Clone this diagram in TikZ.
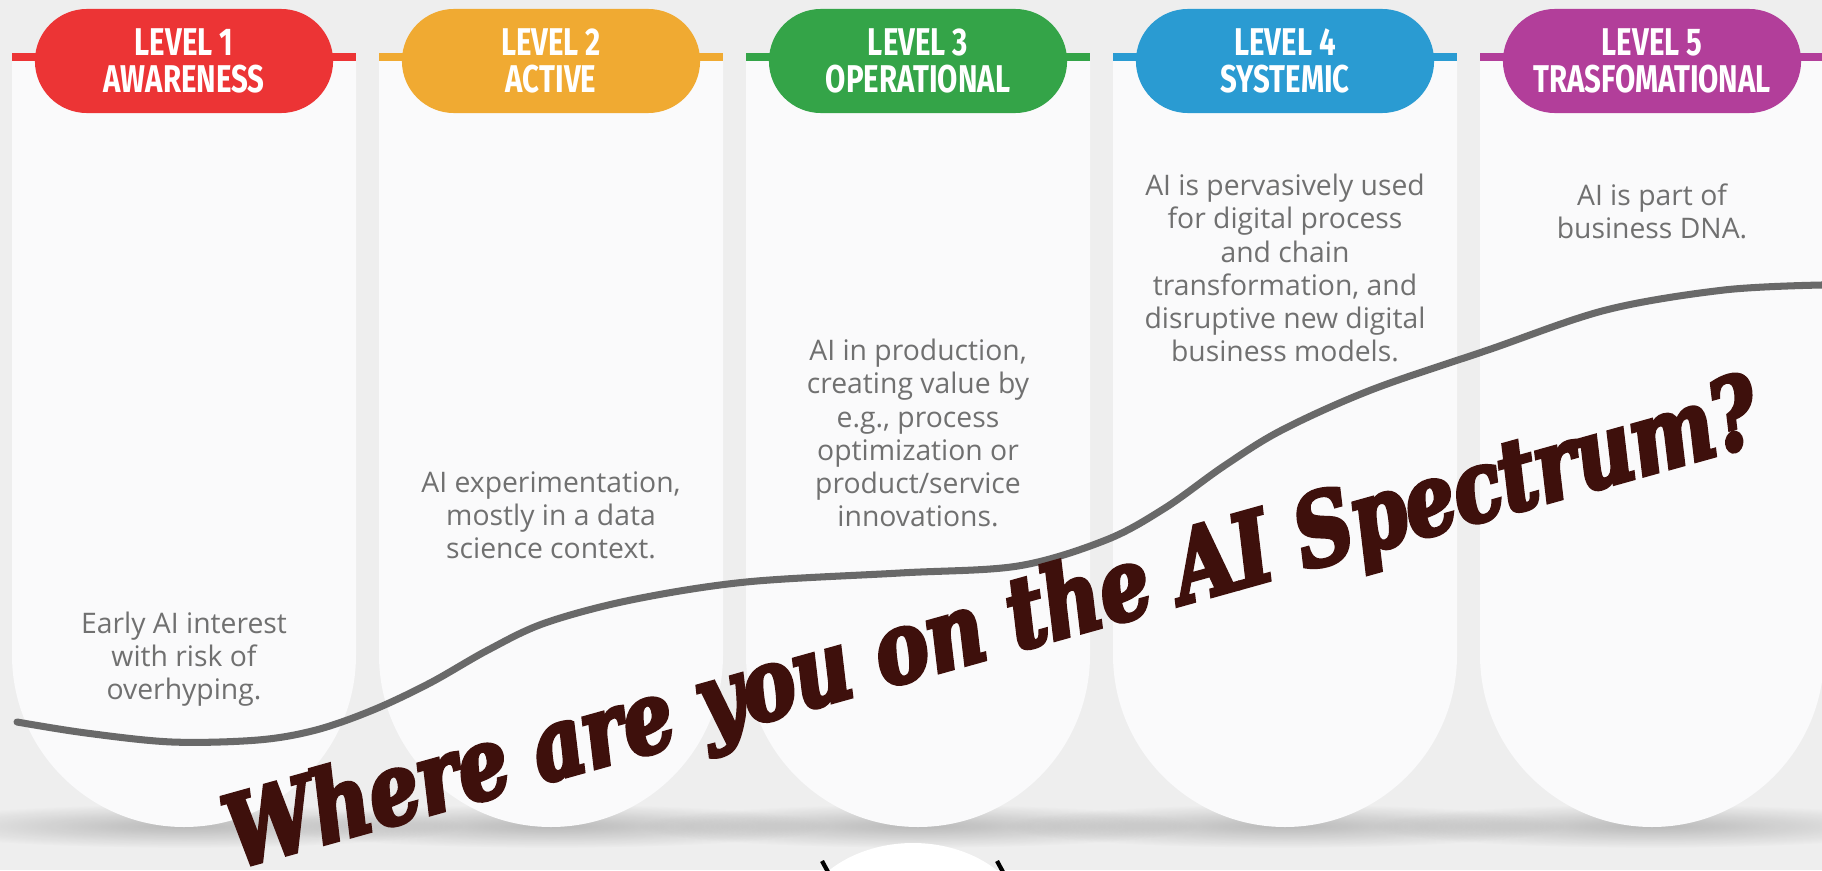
\documentclass[tikz,border=0pt]{standalone}
\usepackage{fontspec}
\setmainfont{Open Sans}
\newfontfamily\pillfont{Fira Sans}[FakeStretch=0.76]
\newfontfamily\headfont{DejaVu Serif}[FakeStretch=0.8,FakeBold=4]
\usetikzlibrary{shapes,arrows,fadings}

\definecolor{pagebg}{RGB}{238,238,238}
\definecolor{cardwhite}{RGB}{250,250,251}
\definecolor{lvlred}{RGB}{236,52,53}
\definecolor{lvlorange}{RGB}{240,170,50}
\definecolor{lvlgreen}{RGB}{52,164,72}
\definecolor{lvlblue}{RGB}{42,155,210}
\definecolor{lvlpurple}{RGB}{178,62,154}
\definecolor{desctext}{RGB}{112,112,112}
\definecolor{curvegray}{RGB}{105,105,105}
\definecolor{headbrown}{RGB}{62,16,12}
\tikzfading[name=shadowfade, inner color=transparent!0, outer color=transparent!100]

\begin{document}
\begin{tikzpicture}[x=0.01cm, y=-0.01cm]
			\tikzset{
				card/.style={fill=cardwhite},
				cardshadow/.style={fill=black, opacity=0.22, path fading=shadowfade},
				stub/.style={line width=2pt},
				pill/.style={rectangle, rounded corners=0.52cm, minimum width=2.98cm, minimum height=1.04cm, inner sep=0pt, text=white, align=center, font=\pillfont\bfseries\fontsize{11}{10.5}\selectfont},
				desc/.style={align=center, text=desctext, inner sep=0pt, font=\fontsize{8.05}{9.4}\selectfont},
				curve/.style={line width=2pt, draw=curvegray, line cap=round},
				headline/.style={anchor=base, rotate=15.6, text=headbrown, inner sep=0pt, font=\headfont\bfseries\itshape\fontsize{28.2}{30}\selectfont},
			}
			\useasboundingbox (0,0) rectangle (1822,870);
			\fill[pagebg] (0,0) rectangle (1822,870);
			%shadows below the cards
			\fill[cardshadow] (184,826) ellipse [x radius=280, y radius=22];
			\fill[cardshadow] (551,826) ellipse [x radius=280, y radius=22];
			\fill[cardshadow] (918,826) ellipse [x radius=280, y radius=22];
			\fill[cardshadow] (1285,826) ellipse [x radius=280, y radius=22];
			\fill[cardshadow] (1652,826) ellipse [x radius=280, y radius=22];
			%cards
			\fill[card] (12,57) -- (12,655) arc[start angle=180, end angle=0, radius=172] -- (356,57) -- cycle;
			\fill[card] (379,57) -- (379,655) arc[start angle=180, end angle=0, radius=172] -- (723,57) -- cycle;
			\fill[card] (746,57) -- (746,655) arc[start angle=180, end angle=0, radius=172] -- (1090,57) -- cycle;
			\fill[card] (1113,57) -- (1113,655) arc[start angle=180, end angle=0, radius=172] -- (1457,57) -- cycle;
			\fill[card] (1480,57) -- (1480,655) arc[start angle=180, end angle=0, radius=172] -- (1824,57) -- cycle;
			%coloured lines
			\draw[stub, lvlred] (12,57) -- (356,57);
			\draw[stub, lvlorange] (379,57) -- (723,57);
			\draw[stub, lvlgreen] (746,57) -- (1090,57);
			\draw[stub, lvlblue] (1113,57) -- (1457,57);
			\draw[stub, lvlpurple] (1480,57) -- (1822,57);
			%level pills
			\node[pill, fill=lvlred] (lvl1) at (184,61) {LEVEL 1\\AWARENESS};
			\node[pill, fill=lvlorange] (lvl2) at (551,61) {LEVEL 2\\ACTIVE};
			\node[pill, fill=lvlgreen] (lvl3) at (918,61) {LEVEL 3\\OPERATIONAL};
			\node[pill, fill=lvlblue] (lvl4) at (1285,61) {LEVEL 4\\SYSTEMIC};
			\node[pill, fill=lvlpurple] (lvl5) at (1652,61) {LEVEL 5\\TRASFOMATIONAL};
			%descriptions
			\node[desc] (desc1) at (184,659) {Early AI interest\\with risk of\\overhyping.};
			\node[desc] (desc2) at (551,515) {AI experimentation,\\mostly in a data\\science context.};
			\node[desc] (desc3) at (918,433) {AI in production,\\creating value by\\e.g., process\\optimization or\\product/service\\innovations.};
			\node[desc] (desc4) at (1285,268) {AI is pervasively used\\for digital process\\and chain\\transformation, and\\disruptive new digital\\business models.};
			\node[desc] (desc5) at (1652,211) {AI is part of\\business DNA.};
			%maturity curve
			\draw[curve] plot[smooth, tension=0.55] coordinates {(17,722) (86,733) (172,742) (258,740) (316,730) (373,710) (430,683) (488,650) (545,623) (631,600) (746,582) (900,573) (1018,566) (1106,540) (1165,508) (1224,466) (1282,430) (1371,390) (1488,350) (1606,310) (1724,290) (1822,285)};
			%figure below
			\fill[white] (913,935) ellipse [x radius=118, y radius=92];
			\draw[line width=1.2pt, black] (822,861) -- (828,872);
			\draw[line width=1.2pt, black] (997,861) -- (1003,872);
			%headline
			\node[headline] (question) at (1001,655) {Where are you on the AI Spectrum?};
		\end{tikzpicture}
\end{document}
